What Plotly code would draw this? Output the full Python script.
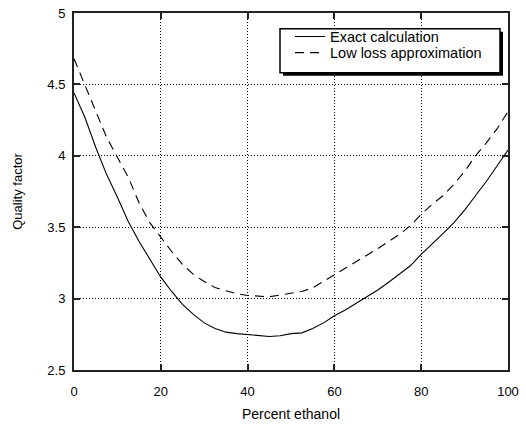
import plotly.graph_objects as go

percent = [0, 2.5, 5, 7.5, 10, 12.5, 15, 17.5, 20, 22.5, 25, 27.5, 30, 32.5, 35, 37.5,
           40, 42.5, 45, 47.5, 50, 52.5, 55, 57.5, 60, 62.5, 65, 67.5, 70, 72.5, 75,
           77.5, 80, 82.5, 85, 87.5, 90, 92.5, 95, 97.5, 100]
exact = [4.44, 4.27, 4.06, 3.87, 3.71, 3.54, 3.40, 3.27, 3.15, 3.05, 2.96, 2.89, 2.83,
         2.79, 2.765, 2.755, 2.747, 2.738, 2.735, 2.74, 2.755, 2.76, 2.79, 2.83, 2.88,
         2.92, 2.965, 3.01, 3.06, 3.115, 3.17, 3.23, 3.31, 3.38, 3.455, 3.53, 3.62,
         3.72, 3.82, 3.93, 4.04]
lowloss = [4.68, 4.50, 4.31, 4.13, 3.99, 3.85, 3.67, 3.53, 3.43, 3.33, 3.24, 3.17, 3.12,
           3.077, 3.055, 3.035, 3.022, 3.015, 3.013, 3.025, 3.035, 3.05, 3.075, 3.12,
           3.165, 3.21, 3.255, 3.30, 3.35, 3.40, 3.45, 3.51, 3.59, 3.66, 3.72, 3.80,
           3.89, 4.00, 4.09, 4.19, 4.31]
xticks = [0, 20, 40, 60, 80, 100]
yticks = [2.5, 3, 3.5, 4, 4.5, 5]
yticklabels = ["2.5", "3", "3.5", "4", "4.5", "5"]

FONT = "Liberation Sans, Arial, sans-serif"
W, H = 526, 429
L, R, T, B = 74, 18, 6, 59
pw, ph = W - L - R, H - T - B


def px2paper(x, y):
    return (x - L) / pw, 1 - (y - T) / ph


fig = go.Figure()
fig.add_trace(go.Scatter(x=percent, y=exact, mode="lines", name="Exact calculation",
                         line=dict(color="black", width=1.1), legend="legend"))
fig.add_trace(go.Scatter(x=percent, y=lowloss, mode="lines", name="Low loss approximation",
                         line=dict(color="black", width=1.1, dash="9px,6px"), legend="legend2"))

# legend box with drop shadow
sx0, sy0 = px2paper(283, 25)
sx1, sy1 = px2paper(503, 70)
bx0, by0 = px2paper(280, 22)
bx1, by1 = px2paper(500, 67)
shapes = [
    dict(type="rect", xref="paper", yref="paper", x0=sx0, y0=sy1, x1=sx1, y1=sy0,
         fillcolor="black", line=dict(width=0), layer="above"),
    dict(type="rect", xref="paper", yref="paper", x0=bx0, y0=by1, x1=bx1, y1=by0,
         fillcolor="white", line=dict(color="black", width=1.5), layer="above"),
]
lx, ly1 = px2paper(290, 30)
_, ly2 = px2paper(290, 46.5)

legend_common = dict(xanchor="left", yanchor="middle", bgcolor="rgba(0,0,0,0)",
                     borderwidth=0, font=dict(family=FONT, size=14.5, color="black"),
                     itemwidth=30)

axis_common = dict(
    showline=True, linecolor="#222", linewidth=2, mirror="ticks",
    ticks="inside", ticklen=6, tickcolor="#222", tickwidth=1.5,
    showgrid=True, gridcolor="black", griddash="1px,2px", gridwidth=1,
    zeroline=False, tickfont=dict(family=FONT, size=13, color="black"),
)

fig.update_layout(
    width=W, height=H,
    margin=dict(l=L, r=R, t=T, b=B),
    paper_bgcolor="white", plot_bgcolor="white",
    font=dict(family=FONT, color="black"),
    shapes=shapes,
    showlegend=True,
    legend=dict(x=lx, y=ly1, **legend_common),
    legend2=dict(x=lx, y=ly2, **legend_common),
    xaxis=dict(range=[0, 100], tickvals=xticks, ticklabelstandoff=8,
               title=dict(text="Percent ethanol", font=dict(family=FONT, size=14, color="black"),
                          standoff=12),
               **axis_common),
    yaxis=dict(range=[2.5, 5], tickvals=yticks, ticktext=yticklabels, ticklabelstandoff=4,
               title=dict(text="Quality factor", font=dict(family=FONT, size=13, color="black"),
                          standoff=22),
               **axis_common),
)

fig.write_html("out.html")
